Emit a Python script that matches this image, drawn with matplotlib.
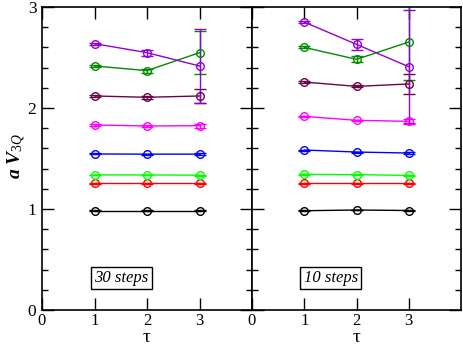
import numpy as np
import matplotlib
matplotlib.use('Agg')
import matplotlib.pyplot as plt
from matplotlib.ticker import MultipleLocator

plt.rcParams['font.family'] = ['Liberation Serif', 'DejaVu Serif']
plt.rcParams['mathtext.fontset'] = 'custom'
plt.rcParams['mathtext.rm'] = 'Liberation Serif'
plt.rcParams['mathtext.it'] = 'Liberation Serif:italic'
plt.rcParams['mathtext.bf'] = 'Liberation Serif:bold'
plt.rcParams['mathtext.bfit'] = 'Liberation Serif:bold:italic'

tau = [1, 2, 3]
colors = ['black', '#ff0000', '#00ff00', '#0000ff', '#ff00ff', '#670748', '#008b00', '#9400d3']

# 30 steps
v30_black = [0.985, 0.985, 0.985]
v30_red = [1.254, 1.254, 1.254]
v30_green = [1.337, 1.337, 1.335]
v30_blue = [1.545, 1.543, 1.543]
v30_magenta = [1.832, 1.822, 1.825]
v30_maroon = [2.119, 2.106, 2.119]
v30_dgreen = [2.416, 2.370, 2.548]
v30_violet = [2.637, 2.548, 2.416]
e30_black = [0.004, 0.004, 0.004]
e30_red = [0.004, 0.004, 0.004]
e30_green = [0.004, 0.004, 0.005]
e30_blue = [0.005, 0.005, 0.008]
e30_magenta = [0.008, 0.008, 0.02]
e30_maroon = [0.008, 0.012, 0.07]
e30_dgreen = [0.01, 0.02, 0.21]
e30_violet = [0.01, 0.03, 0.37]

# 10 steps
v10_black = [0.983, 0.99, 0.985]
v10_red = [1.254, 1.254, 1.254]
v10_green = [1.343, 1.340, 1.333]
v10_blue = [1.584, 1.564, 1.554]
v10_magenta = [1.917, 1.878, 1.868]
v10_maroon = [2.257, 2.214, 2.238]
v10_dgreen = [2.600, 2.482, 2.653]
v10_violet = [2.851, 2.630, 2.409]
e10_black = [0.003, 0.003, 0.003]
e10_red = [0.003, 0.003, 0.004]
e10_green = [0.004, 0.004, 0.005]
e10_blue = [0.005, 0.005, 0.01]
e10_magenta = [0.005, 0.008, 0.025]
e10_maroon = [0.01, 0.01, 0.10]
e10_dgreen = [0.01, 0.03, 0.376]
e10_violet = [0.01, 0.056, 0.56]

vals30 = [v30_black, v30_red, v30_green, v30_blue, v30_magenta, v30_maroon, v30_dgreen, v30_violet]
errs30 = [e30_black, e30_red, e30_green, e30_blue, e30_magenta, e30_maroon, e30_dgreen, e30_violet]
vals10 = [v10_black, v10_red, v10_green, v10_blue, v10_magenta, v10_maroon, v10_dgreen, v10_violet]
errs10 = [e10_black, e10_red, e10_green, e10_blue, e10_magenta, e10_maroon, e10_dgreen, e10_violet]

fig = plt.figure(figsize=(4.63, 3.46), dpi=100)
ax1 = fig.add_axes([42/463, 1-310/346, 210/463, 303/346])
ax2 = fig.add_axes([252/463, 1-310/346, 209/463, 303/346])

for ax, vals, errs, label in [(ax1, vals30, errs30, '30 steps'), (ax2, vals10, errs10, '10 steps')]:
    for v, e, c in zip(vals, errs, colors):
        ax.errorbar(tau, v, yerr=e, color=c, lw=1, elinewidth=1, capsize=4, capthick=1,
                    marker='o', ms=5.5, mfc='none', mec=c, mew=1)
    ax.set_xlim(0, 4)
    ax.set_ylim(0, 3)
    ax.set_xticks([0, 1, 2, 3])
    ax.yaxis.set_major_locator(MultipleLocator(1))
    ax.yaxis.set_minor_locator(MultipleLocator(0.2))
    ax.tick_params(which='major', direction='in', length=8.5, width=1, top=True, right=True,
                   labelsize=12.5, pad=4)
    ax.tick_params(axis='x', pad=2, labelsize=12)
    ax.tick_params(which='minor', direction='in', length=4.5, width=1, left=True, right=True)
    for s in ax.spines.values():
        s.set_linewidth(1.2)
    ax.set_xlabel('τ', fontsize=14, labelpad=0)
    ax.text(0.377, 0.106, label, transform=ax.transAxes, fontsize=12, style='italic',
            ha='center', va='center',
            bbox=dict(boxstyle='square,pad=0.2', fc='white', ec='black', lw=1))

ax2.tick_params(labelleft=False)
fig.text(17/463, 1-156/346, r'$\mathbfit{a\ V}_{\mathit{3Q}}$', fontsize=14,
         rotation=90, ha='center', va='center')

fig.savefig('out.png', dpi=100)
